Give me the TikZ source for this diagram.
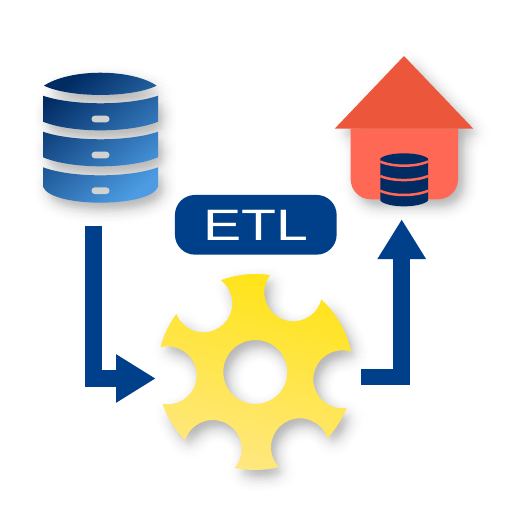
\documentclass[tikz,border=0pt]{standalone}
\usepackage{fontspec}
\setmainfont{Liberation Sans}
\usetikzlibrary{arrows.meta}
\definecolor{etlblue}{HTML}{003F8A}
\definecolor{dbdark}{HTML}{002B63}
\definecolor{dblight}{HTML}{4C9BE3}
\definecolor{roofc}{HTML}{EC573C}
\definecolor{housec}{HTML}{FF6855}
\definecolor{gearA}{HTML}{FFE30A}
\definecolor{gearB}{HTML}{FFE88C}
\tikzset{
  flow/.style={draw=etlblue,line width=16.5pt,miter limit=10,
    -{Triangle[length=39.7pt,width=45.7pt,fill=etlblue]}},
  etlbox/.style={fill=etlblue,text=white,rounded corners=20pt,minimum width=161.7pt,
    minimum height=59.7pt,inner sep=0pt,text height=32pt,text depth=0pt,
    font=\fontsize{44}{44}\selectfont},
  pill/.style={fill=black!18,rounded corners=3.2pt},
  stripe/.style={draw=housec,line width=2.5pt}
}
% soft shadow: stacked offset copies of a shape
\newcommand\softshadow[4]{%
  \foreach \rr in {1.5,3,...,15}{\foreach \aa in {0,45,...,315}{%
    \begin{scope}[shift={({#1+\rr*cos(\aa+\rr*17)},{#2+\rr*sin(\aa+\rr*17)})}]
      #4{black,opacity=#3}
    \end{scope}}}}
\newcommand\dbpath{
  (44,85.7) .. controls (70,68.4) and (131,68.4) .. (156.7,85.7)
            .. controls (131,98) and (70,98) .. cycle
  (43,95.7) .. controls (72,105.8) and (129,105.8) .. (158,95.7) -- (158,121.7)
            .. controls (129,133.2) and (72,133.2) .. (43,121.7) -- cycle
  (43,131.7) .. controls (72,141.8) and (129,141.8) .. (158,131.7) -- (158,157.3)
            .. controls (129,169.3) and (72,169.3) .. (43,157.3) -- cycle
  (43,167.3) .. controls (72,178) and (129,178) .. (158,167.3) -- (158,186.7)
            .. controls (150,208) and (51,208) .. (43,186.7) -- cycle}
\newcommand\dbshape[1]{\fill[#1] \dbpath;}
\newcommand\houseshape[1]{\fill[#1] (404,56) -- (473.3,128.7) -- (458,128.7) -- (458,179.3)
   arc[start angle=0,end angle=90,radius=20] -- (370.7,199.3)
   arc[start angle=90,end angle=180,radius=20] -- (350.7,128.7) -- (334.7,128.7) -- cycle;}
\newcommand\gearholes{
  (100,260) rectangle (410,480)
  (255.3,372) circle[radius=32]
  (203.3,303.3) circle[radius=29]
  (293.3,292.3) circle[radius=29]
  (342.3,379.3) circle[radius=29]
  (167.7,375.3) circle[radius=29]
  (212.7,449) circle[radius=29]
  (300,447.3) circle[radius=29]}
\newcommand\gearclip{\clip (255.3,372) circle[radius=98];}
\newcommand\gearshape[1]{\begin{scope}\gearclip\fill[even odd rule,#1] \gearholes;\end{scope}}
\begin{document}
\begin{tikzpicture}[x=1pt,y=-1pt]
\useasboundingbox (0,0) rectangle (512,512);
\fill[white] (0,0) rectangle (512,512);

% database
\softshadow{5}{7}{0.0048}{\dbshape}
\shade[top color=dbdark,bottom color=dblight,shading angle=40] \dbpath;
\fill[pill] (91.5,115.7) rectangle (109.5,122.3);
\fill[pill] (91.5,151.7) rectangle (109.5,158.3);
\fill[pill] (91.5,187.4) rectangle (109.5,194);

% warehouse
\softshadow{6}{7}{0.0048}{\houseshape}
\fill[housec] (350.7,128.7) -- (458,128.7) -- (458,179.3)
   arc[start angle=0,end angle=90,radius=20] -- (370.7,199.3)
   arc[start angle=90,end angle=180,radius=20] -- cycle;
\fill[roofc] (404,56) -- (473.3,128.7) -- (334.7,128.7) -- cycle;
\fill[dbdark] (380.3,158.5) .. controls (388,151.6) and (420,151.6) .. (428,158.5)
   -- (428,200.7) .. controls (420,208.2) and (388,208.2) .. (380.3,200.7) -- cycle;
\draw[stripe] (380.3,161.5) .. controls (392,167.1) and (416,167.1) .. (428,161.5);
\draw[stripe] (380.3,176) .. controls (392,181.4) and (416,181.4) .. (428,176);
\draw[stripe] (380.3,190.7) .. controls (392,196.4) and (416,196.4) .. (428,190.7);

% gear
\softshadow{5}{7}{0.0055}{\gearshape}
\begin{scope}
  \gearclip
  \shade[even odd rule,top color=gearA,bottom color=gearB,shading angle=-15] \gearholes;
\end{scope}

% ETL label
\node[etlbox] (etl) at (255.8,224.8) {\scalebox{1.3}[1]{ETL}};

% connectors
\coordinate (srcfoot) at (93.5,226);
\coordinate (geartip) at (155.7,378.5);
\coordinate (gearout) at (361,377);
\coordinate (housetip) at (401.7,219.3);
\draw[flow] (srcfoot) |- (geartip);
\draw[flow] (gearout) -| (housetip);
\end{tikzpicture}
\end{document}
